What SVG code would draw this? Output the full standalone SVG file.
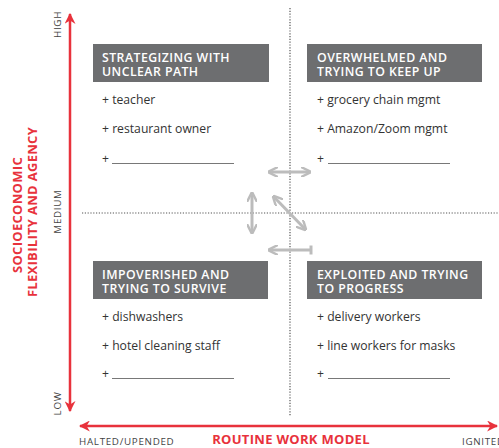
<svg xmlns="http://www.w3.org/2000/svg" width="499" height="448" viewBox="0 0 499 448">
<defs>
<style>
.hdr{fill:#6d6e70}
.ht{font-family:"Open Sans","Liberation Sans",sans-serif;font-weight:600;font-size:12.3px;fill:#ffffff;letter-spacing:0.45px}
.it{font-family:"Open Sans","Liberation Sans",sans-serif;font-size:12.2px;fill:#333333}
.blank{stroke:#555555;stroke-width:0.8}
.ax{font-family:"Open Sans","Liberation Sans",sans-serif;font-size:9.8px;fill:#444444;letter-spacing:0.7px}
.rt{font-family:"Open Sans","Liberation Sans",sans-serif;font-weight:700;font-size:13px;fill:#e8323c;letter-spacing:0.3px}
.red{stroke:#e8323c;stroke-width:2.5;fill:none}
.dot{stroke:#555555;stroke-width:1.2;stroke-dasharray:1.2 1.6;fill:none}
.g{stroke:#bcbcbc;stroke-width:3;fill:none}
</style>
<marker id="rh" viewBox="0 0 10 10" refX="9" refY="5" markerWidth="4.4" markerHeight="4.4" orient="auto-start-reverse" markerUnits="strokeWidth"><path d="M0,0 L10,5 L0,10 L3,5 Z" fill="#e8323c"/></marker>
<marker id="gh" viewBox="0 0 10 10" refX="8" refY="5" markerWidth="3.4" markerHeight="3.4" orient="auto-start-reverse" markerUnits="strokeWidth"><path d="M0,0 L10,5 L0,10" fill="none" stroke="#bcbcbc" stroke-width="2.4"/></marker>
</defs>
<rect width="499" height="448" fill="#ffffff"/>

<g id="axes">
<line class="red" x1="70" y1="411" x2="70" y2="14" marker-end="url(#rh)" marker-start="url(#rh)"/>
<line class="red" x1="80" y1="426" x2="497" y2="426" marker-end="url(#rh)" marker-start="url(#rh)"/>
<text class="ax" transform="translate(61,24.5) rotate(-90)" text-anchor="middle">HIGH</text>
<text class="ax" transform="translate(61,211.5) rotate(-90)" text-anchor="middle">MEDIUM</text>
<text class="ax" transform="translate(61,403.5) rotate(-90)" text-anchor="middle">LOW</text>
<text class="rt" transform="translate(22,215) rotate(-90)" text-anchor="middle">SOCIOECONOMIC</text>
<text class="rt" transform="translate(37,212) rotate(-90)" text-anchor="middle">FLEXIBILITY AND AGENCY</text>
<text class="ax" x="79" y="444.5">HALTED/UPENDED</text>
<text class="rt" x="291" y="444" text-anchor="middle">ROUTINE WORK MODEL</text>
<text class="ax" x="462" y="444.5">IGNITED</text>
</g>

<g id="dividers">
<line class="dot" x1="290" y1="8" x2="290" y2="416"/>
<line class="dot" x1="82" y1="213" x2="499" y2="213"/>
</g>

<g id="q-strategizing">
<rect class="hdr" x="93" y="44" width="176" height="38"/>
<text class="ht" x="102" y="61.5">STRATEGIZING WITH<tspan x="102" dy="14">UNCLEAR PATH</tspan></text>
<text class="it" x="102" y="103.5">+ teacher</text>
<text class="it" x="102" y="133">+ restaurant owner</text>
<text class="it" x="102" y="163">+</text>
<line class="blank" x1="112" y1="163.5" x2="234" y2="163.5"/>
</g>

<g id="q-overwhelmed">
<rect class="hdr" x="307" y="44" width="175" height="38"/>
<text class="ht" x="317" y="61.5">OVERWHELMED AND<tspan x="317" dy="14">TRYING TO KEEP UP</tspan></text>
<text class="it" x="317" y="103.5">+ grocery chain mgmt</text>
<text class="it" x="317" y="133">+ Amazon/Zoom mgmt</text>
<text class="it" x="317" y="163">+</text>
<line class="blank" x1="328" y1="163.5" x2="450" y2="163.5"/>
</g>

<g id="q-impoverished">
<rect class="hdr" x="93" y="261" width="175" height="38"/>
<text class="ht" x="102" y="278.5">IMPOVERISHED AND<tspan x="102" dy="14">TRYING TO SURVIVE</tspan></text>
<text class="it" x="102" y="320.5">+ dishwashers</text>
<text class="it" x="102" y="349.5">+ hotel cleaning staff</text>
<text class="it" x="102" y="378">+</text>
<line class="blank" x1="112" y1="378.5" x2="234" y2="378.5"/>
</g>

<g id="q-exploited">
<rect class="hdr" x="307" y="261" width="175" height="38"/>
<text class="ht" x="317" y="278.5">EXPLOITED AND TRYING<tspan x="317" dy="14">TO PROGRESS</tspan></text>
<text class="it" x="317" y="320.5">+ delivery workers</text>
<text class="it" x="317" y="349.5">+ line workers for masks</text>
<text class="it" x="317" y="378">+</text>
<line class="blank" x1="328" y1="378.5" x2="450" y2="378.5"/>
</g>

<g id="connectors">
<line class="g" x1="270" y1="172" x2="309" y2="172" marker-start="url(#gh)" marker-end="url(#gh)"/>
<line class="g" x1="252" y1="194" x2="252" y2="232" marker-start="url(#gh)" marker-end="url(#gh)"/>
<line class="g" x1="274" y1="197" x2="305" y2="229" marker-start="url(#gh)" marker-end="url(#gh)"/>
<line class="g" x1="311" y1="250" x2="270" y2="250" marker-end="url(#gh)"/>
<line class="g" x1="311" y1="245.5" x2="311" y2="254.5" stroke-width="2"/>
</g>
</svg>
